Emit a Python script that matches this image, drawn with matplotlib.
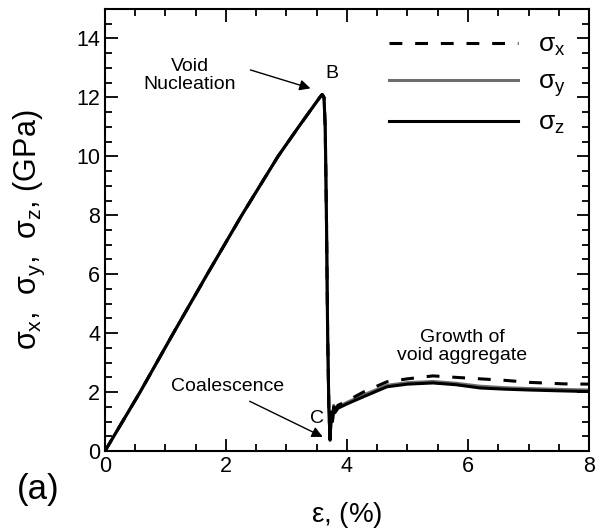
import matplotlib
matplotlib.use("Agg")
import matplotlib.pyplot as plt
from matplotlib.ticker import MultipleLocator

plt.rcParams['font.family'] = ['Liberation Sans', 'DejaVu Sans']
plt.rcParams['mathtext.fontset'] = 'custom'
plt.rcParams['mathtext.rm'] = 'Liberation Sans'
plt.rcParams['mathtext.it'] = 'Liberation Sans'

# strain (%) and stresses (GPa)
eps = [0, 0.58, 1.13, 1.69, 2.26, 2.86, 3.2, 3.55, 3.59, 3.62, 3.64, 3.66, 3.68, 3.70,
       3.72, 3.74, 3.76, 3.78, 3.80, 3.85, 4.0, 4.27, 4.66, 5.0, 5.42, 5.8, 6.2, 6.6,
       7.02, 7.57, 8.0]
sig_z = [0, 2.0, 4.0, 6.0, 8.0, 10.0, 11.0, 12.0, 12.1, 12.0, 11.0, 8.0, 4.0, 1.5,
         0.37, 1.3, 1.0, 1.5, 1.3, 1.45, 1.6, 1.84, 2.18, 2.27, 2.31, 2.25, 2.14, 2.1,
         2.07, 2.04, 2.02]
sig_y = [0, 2.0, 4.0, 6.0, 8.0, 10.0, 11.0, 12.0, 12.1, 12.0, 11.0, 8.0, 4.0, 1.5,
         0.37, 1.35, 1.05, 1.55, 1.35, 1.5, 1.65, 1.9, 2.23, 2.32, 2.36, 2.3, 2.2, 2.15,
         2.12, 2.09, 2.07]
sig_x = [0, 2.0, 4.0, 6.0, 8.0, 10.0, 11.0, 12.0, 12.1, 12.0, 11.0, 8.0, 4.0, 1.5,
         0.37, 1.4, 1.1, 1.6, 1.4, 1.55, 1.7, 2.0, 2.35, 2.45, 2.55, 2.5, 2.45, 2.4,
         2.33, 2.28, 2.27]

fig = plt.figure(figsize=(6.03, 5.30), dpi=100)
ax = fig.add_axes([0.1741, 0.149, 0.8027, 0.834])

ax.plot(eps, sig_y, color='#6e6e6e', lw=2.2, label=r'$\sigma_y$')
ax.plot(eps, sig_z, color='black', lw=2.2, label=r'$\sigma_z$')
ax.plot(eps, sig_x, color='black', lw=2.2, ls=(0, (4.2, 4.2)), label=r'$\sigma_x$')

ax.set_xlim(0, 8)
ax.set_ylim(0, 15)
ax.xaxis.set_major_locator(MultipleLocator(2))
ax.xaxis.set_minor_locator(MultipleLocator(0.5))
ax.yaxis.set_major_locator(MultipleLocator(2))
ax.yaxis.set_minor_locator(MultipleLocator(0.5))
ax.tick_params(which='both', direction='in', top=True, right=True, labelsize=15.5, width=1.3)
ax.tick_params(which='major', length=9)
ax.tick_params(which='minor', length=5)
for s in ax.spines.values():
    s.set_linewidth(1.5)

ax.set_xlabel(r'$\epsilon$, (%)', fontsize=20, va='top')
ax.xaxis.set_label_coords(0.5, -0.11)
ax.set_ylabel(r'$\sigma_x$,  $\sigma_y$,  $\sigma_z$, (GPa)', fontsize=22)
ax.yaxis.set_label_coords(-0.12, 0.5)

h, l = ax.get_legend_handles_labels()
order = [2, 0, 1]
ax.legend([h[i] for i in order], [l[i] for i in order], loc='upper right', frameon=False,
          fontsize=19, handlelength=4.9, labelspacing=0.45, handletextpad=0.75,
          borderaxespad=0.5)

ax.text(1.40, 12.75, 'Void\nNucleation', fontsize=14, ha='center', va='center', linespacing=1.1)
ax.annotate('', xy=(3.44, 12.28), xytext=(2.36, 12.96),
            arrowprops=dict(arrowstyle='-|>', color='black', lw=1.0, mutation_scale=16))
ax.text(3.75, 12.8, 'B', fontsize=14, ha='center', va='center')

ax.text(2.03, 2.18, 'Coalescence', fontsize=14, ha='center', va='center')
ax.annotate('', xy=(3.64, 0.44), xytext=(2.35, 1.73),
            arrowprops=dict(arrowstyle='-|>', color='black', lw=1.0, mutation_scale=16))
ax.text(3.5, 1.12, 'C', fontsize=14, ha='center', va='center')

ax.text(5.9, 3.55, 'Growth of\nvoid aggregate', fontsize=14, ha='center', va='center',
        linespacing=1.05)

fig.text(0.063, 0.077, '(a)', fontsize=25, ha='center', va='center')

fig.savefig('out.png', dpi=100)
